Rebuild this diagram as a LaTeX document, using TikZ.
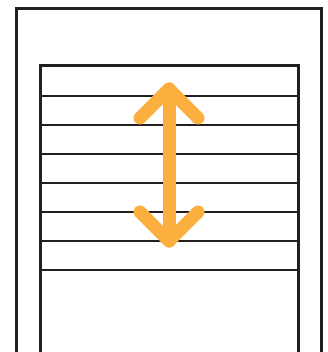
\documentclass[tikz,border=0pt]{standalone}
\usetikzlibrary{arrows.meta}
\definecolor{arrowor}{HTML}{FBAF3F}
\definecolor{frameblk}{HTML}{231F20}
\begin{document}
\begin{tikzpicture}[x=1pt, y=-1pt,
  frame/.style={draw=frameblk, line width=3pt},
  slat/.style={draw=frameblk, line width=2.6pt},
  move/.style={draw=arrowor, line width=13pt, line cap=round, line join=round}]
\useasboundingbox (0,0) rectangle (328,352);
% window frame and shutter
\draw[frame] (16,354) -- (16,9) -- (321,9) -- (321,354);
\draw[frame] (40,354) -- (40,66) -- (298,66) -- (298,354);
\foreach \k in {0,...,6}
  \draw[slat] (40,96+29*\k) -- (298,96+29*\k);
% up/down arrow
\coordinate (up) at (169,89);
\coordinate (down) at (169,241);
\draw[move] (up) -- (down);
\draw[move] ([xshift=-29pt, yshift=-29pt]up) -- (up) -- ([xshift=29pt, yshift=-29pt]up);
\draw[move] ([xshift=-29pt, yshift=29pt]down) -- (down) -- ([xshift=29pt, yshift=29pt]down);
\end{tikzpicture}
\end{document}
